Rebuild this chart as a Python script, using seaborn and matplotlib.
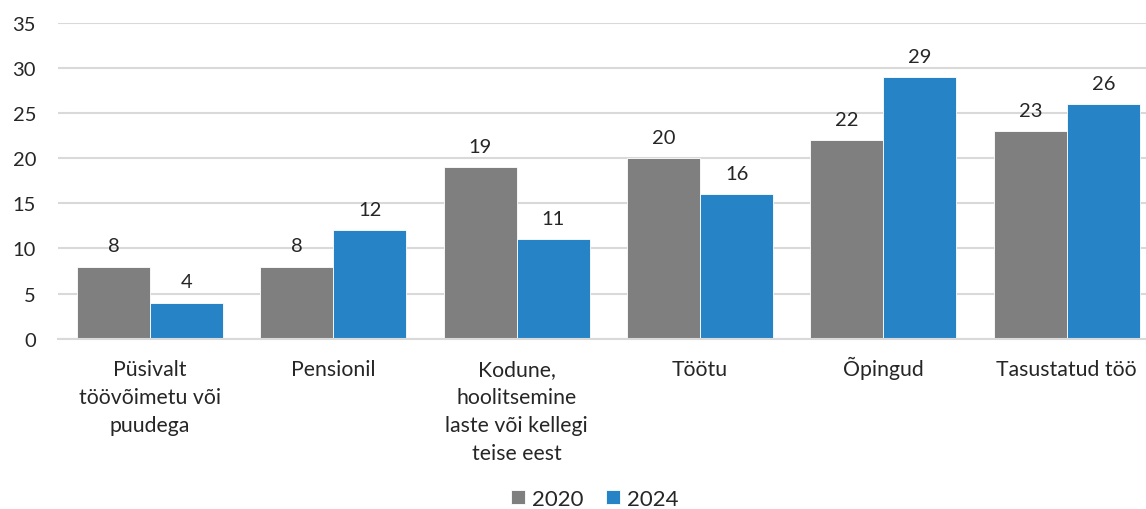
import matplotlib
matplotlib.use("Agg")
import matplotlib.pyplot as plt
from matplotlib.transforms import ScaledTranslation
import pandas as pd
import seaborn as sns

categories = [
    "Püsivalt\ntöövõimetu või\npuudega",
    "Pensionil",
    "Kodune,\nhoolitsemine\nlaste või kellegi\nteise eest",
    "Töötu",
    "Õpingud",
    "Tasustatud töö",
]
years = ["2020", "2024"]
values_2020 = [8, 8, 19, 20, 22, 23]
values_2024 = [4, 12, 11, 16, 29, 26]
colors = ["#7f7f7f", "#2683c6"]

df = pd.DataFrame({
    "category": categories * 2,
    "year": [years[0]] * len(categories) + [years[1]] * len(categories),
    "value": values_2020 + values_2024,
})

sns.set_theme(style="white")
plt.rcParams["font.family"] = ["Lato", "DejaVu Sans"]
plt.rcParams["text.color"] = "#262626"

fig = plt.figure(figsize=(11.46, 5.10), dpi=100)
ax = fig.add_axes([0.0509, 0.334, 0.960, 0.619])

sns.barplot(data=df, x="category", y="value", hue="year", order=categories,
            hue_order=years, palette=colors, width=0.796, edgecolor="white",
            linewidth=0.6, saturation=1, ax=ax)

ax.set_ylim(0, 35)
ax.set_yticks(range(0, 36, 5))
ax.set_xlim(-0.5, len(categories) - 0.5)
ax.yaxis.grid(True, color="#d9d9d9", linewidth=1.5)
ax.set_axisbelow(True)
for side in ["top", "right", "left"]:
    ax.spines[side].set_visible(False)
ax.spines["bottom"].set_color("#d9d9d9")
ax.spines["bottom"].set_linewidth(1.5)
ax.set_xlabel("")
ax.set_ylabel("")
ax.tick_params(axis="y", length=0, pad=16, labelsize=14.5, labelcolor="#262626")
ax.tick_params(axis="x", length=0, labelbottom=False)

# Category labels: first-line baselines share one level below the axis
xform = ax.get_xaxis_transform()
for i, cat in enumerate(categories):
    if "\n" in cat:
        tr = xform + ScaledTranslation(0, -0.205, fig.dpi_scale_trans)
        va = "top"
    else:
        tr = xform + ScaledTranslation(0, -0.365, fig.dpi_scale_trans)
        va = "baseline"
    ax.text(i, 0, cat, transform=tr, ha="center", va=va, fontsize=15.3,
            linespacing=1.5, color="#262626")

for container in ax.containers:
    ax.bar_label(container, fmt="%g", padding=9, fontsize=14.5, color="#262626")

handles, labels = ax.get_legend_handles_labels()
ax.get_legend().remove()
fig.legend(handles, labels, loc="center", bbox_to_anchor=(0.519, 0.02), ncol=2,
           frameon=False, fontsize=16, handlelength=0.65, handleheight=0.65,
           handletextpad=0.3, columnspacing=1.0)

fig.savefig("out.png", dpi=100)
